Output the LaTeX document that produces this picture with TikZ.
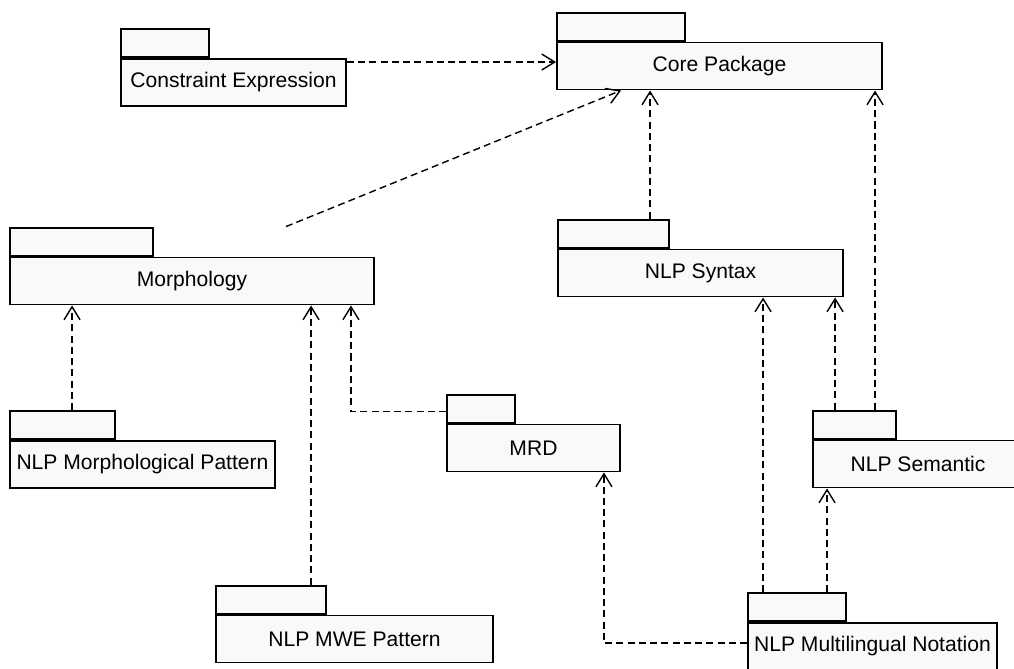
\documentclass[tikz,border=0pt]{standalone}
\usepackage{fontspec}
\setmainfont{Liberation Sans}
\usetikzlibrary{positioning}
\usetikzlibrary{arrows.meta}
\tikzset{
	pkg/.style={draw, line width=1.1pt, fill=gray!5, minimum height=0.94cm, inner sep=0pt, font=\fontsize{12}{14}\selectfont},
	pkgtab/.style={draw, line width=1.1pt, fill=gray!5, minimum height=0.56cm, inner sep=0pt, anchor=south west},
	dep/.style={dash pattern=on 4pt off 2.4pt, line width=0.8pt, -{Straight Barb[length=2.6mm,width=3.2mm]}},
}

\begin{document}
\begin{tikzpicture}[x=0.02cm, y=-0.02cm]
	\useasboundingbox (0,0) rectangle (1014,669);
	% packages
	\node[pkg, minimum width=4.5cm] (constraint) at (233.5,82.5) {Constraint Expression};
	\node[pkgtab, minimum width=1.76cm] (constraint-tab) at (constraint.north west) {};
	\node[pkg, minimum width=6.5cm] (core) at (719.5,66) {Core Package};
	\node[pkgtab, minimum width=2.56cm] (core-tab) at (core.north west) {};
	\node[pkg, minimum width=7.28cm] (morph) at (192,281) {Morphology};
	\node[pkgtab, minimum width=2.86cm] (morph-tab) at (morph.north west) {};
	\node[pkg, minimum width=5.7cm] (syntax) at (700.5,273) {NLP Syntax};
	\node[pkgtab, minimum width=2.22cm] (syntax-tab) at (syntax.north west) {};
	\node[pkg, minimum width=5.3cm] (morphpat) at (142.5,464.5) {NLP Morphological Pattern};
	\node[pkgtab, minimum width=2.1cm] (morphpat-tab) at (morphpat.north west) {};
	\node[pkg, minimum width=3.46cm] (mrd) at (533.5,448) {MRD};
	\node[pkgtab, minimum width=1.36cm] (mrd-tab) at (mrd.north west) {};
	\node[pkg, minimum width=4.2cm] (semantic) at (918,464) {NLP Semantic};
	\node[pkgtab, minimum width=1.66cm] (semantic-tab) at (semantic.north west) {};
	\node[pkg, minimum width=5.54cm] (mwe) at (354.5,639) {NLP MWE Pattern};
	\node[pkgtab, minimum width=2.2cm] (mwe-tab) at (mwe.north west) {};
	\node[pkg, minimum width=4.98cm] (multi) at (872.5,646.5) {NLP Multilingual Notation};
	\node[pkgtab, minimum width=1.96cm] (multi-tab) at (multi.north west) {};

	% dependencies
	\coordinate (c1) at ([yshift=-0.08cm]constraint.north east);
	\draw[dep] (c1) -- (c1 -| core.west);
	\coordinate (m1) at ([xshift=2.64cm]morph-tab.north east);
	\coordinate (m2) at ([xshift=1.3cm]core.south west);
	\draw[dep] (m1) -- (m2);
	\coordinate (s1) at ([xshift=1.86cm]syntax-tab.north west);
	\draw[dep] (s1) -- (s1 |- core.south);
	\coordinate (e1) at ([xshift=1.26cm]semantic-tab.north west);
	\draw[dep] (e1) -- (e1 |- core.south);
	\coordinate (e2) at ([xshift=0.46cm]semantic-tab.north west);
	\draw[dep] (e2) -- (e2 |- syntax.south);
	\coordinate (n1) at ([xshift=0.32cm]multi-tab.north west);
	\draw[dep] (n1) -- (n1 |- syntax.south);
	\coordinate (n2) at ([xshift=1.6cm]multi-tab.north west);
	\draw[dep] (n2) -- (n2 |- semantic.south);
	\coordinate (n3) at ([yshift=0.07cm]multi.west);
	\coordinate (r1) at ([xshift=-0.34cm]mrd.south east);
	\draw[dep] (n3) -| (r1);
	\coordinate (r2) at ([yshift=-0.06cm]mrd-tab.west);
	\coordinate (o1) at ([xshift=-0.48cm]morph.south east);
	\draw[dep] (r2) -| (o1);
	\coordinate (p1) at ([xshift=1.26cm]morphpat-tab.north west);
	\draw[dep] (p1) -- (p1 |- morph.south);
	\coordinate (w1) at ([xshift=1.92cm]mwe-tab.north west);
	\draw[dep] (w1) -- (w1 |- morph.south);
\end{tikzpicture}
\end{document}
